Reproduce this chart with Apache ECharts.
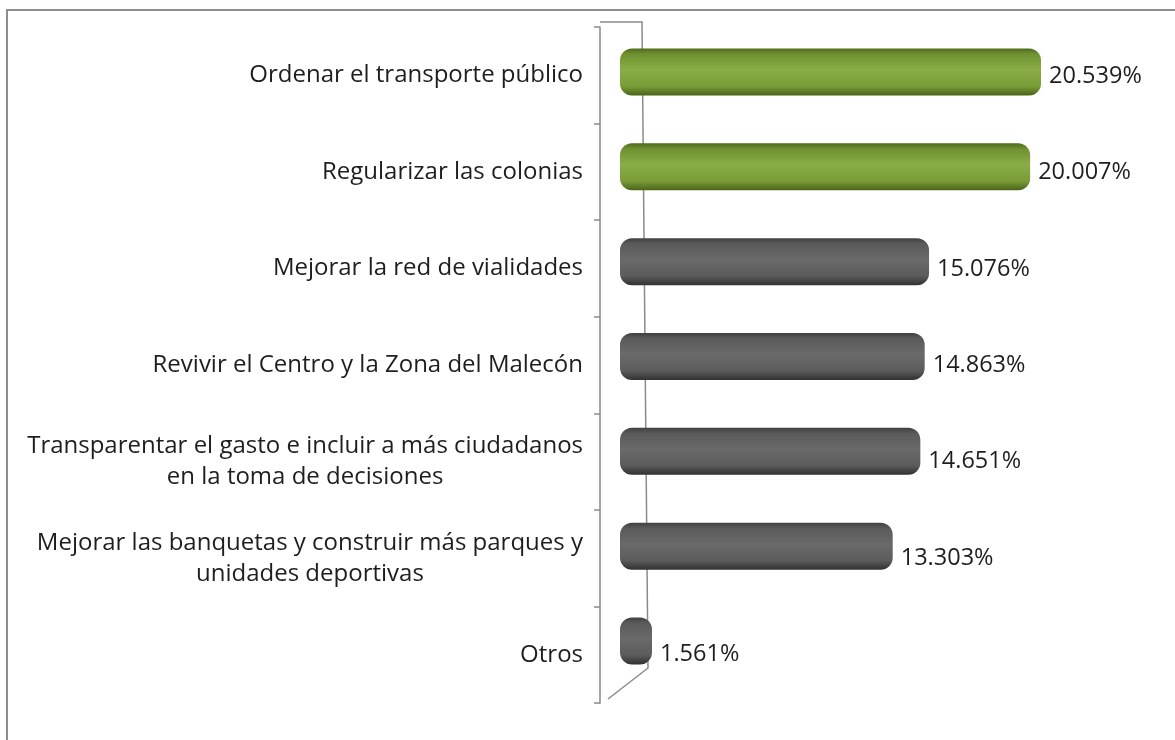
<!DOCTYPE html>
<html>
<head>
<meta charset="utf-8">
<script src="https://cdn.jsdelivr.net/npm/echarts@6/dist/echarts.min.js"></script>
<style>
html,body{margin:0;padding:0;background:#fff;}
#chart{width:1175px;height:740px;}
</style>
</head>
<body>
<div id="chart"></div>
<script>
// ---- data ----
const categories = [
  'Ordenar el transporte público',
  'Regularizar las colonias',
  'Mejorar la red de vialidades',
  'Revivir el Centro y la Zona del Malecón',
  'Transparentar el gasto e incluir a más ciudadanos\nen la toma de decisiones',
  'Mejorar las banquetas y construir más parques y\nunidades deportivas',
  'Otros'
];
const values = [20.539, 20.007, 15.076, 14.863, 14.651, 13.303, 1.561];
const highlighted = [true, true, false, false, false, false, false];

// ---- styles ----
const FONT = 'Open Sans';
const greenGrad = new echarts.graphic.LinearGradient(0, 0, 0, 1, [
  {offset: 0, color: '#4f6b1c'},
  {offset: 0.12, color: '#6f9130'},
  {offset: 0.45, color: '#8aad47'},
  {offset: 0.8, color: '#7a9c38'},
  {offset: 1, color: '#4a6418'}
]);
const grayGrad = new echarts.graphic.LinearGradient(0, 0, 0, 1, [
  {offset: 0, color: '#404040'},
  {offset: 0.12, color: '#5a5a5a'},
  {offset: 0.45, color: '#6a6a6a'},
  {offset: 0.8, color: '#5c5c5c'},
  {offset: 1, color: '#313131'}
]);

const barData = values.map((v, i) => ({
  value: v,
  itemStyle: {color: highlighted[i] ? greenGrad : grayGrad},
  label: {offset: [0, 4 + 1.6 * i]}
}));

const chart = echarts.init(document.getElementById('chart'), null, {renderer: 'canvas'});
chart.setOption({
  backgroundColor: '#ffffff',
  animation: false,
  grid: [
    {left: 620, right: 22, top: 24.6, bottom: 51.6},
    {left: 600, width: 1, top: 27, bottom: 36.8}
  ],
  xAxis: [
    {gridIndex: 0, type: 'value', min: 0, max: 26, show: false},
    {gridIndex: 1, type: 'value', min: 0, max: 1, show: false}
  ],
  yAxis: [
    {gridIndex: 0, type: 'category', data: categories, inverse: true, show: false},
    {
      gridIndex: 1, type: 'category', data: categories, inverse: true,
      axisLine: {show: true, lineStyle: {color: '#8a8a8a', width: 1.5}},
      axisTick: {show: true, length: 6, lineStyle: {color: '#8a8a8a', width: 1.5}},
      axisLabel: {
        margin: 17,
        align: 'right',
        fontFamily: FONT,
        fontSize: 24,
        color: '#1e1e1e',
        lineHeight: 31,
        formatter: function (val) {
          return val.split('\n').map(s => '{c|' + s + '}').join('\n');
        },
        rich: {c: {align: 'center', fontFamily: FONT, fontSize: 24, color: '#1e1e1e', lineHeight: 31}}
      }
    }
  ],
  series: [{
    type: 'bar',
    xAxisIndex: 0,
    yAxisIndex: 0,
    data: barData,
    barWidth: 47,
    itemStyle: {borderRadius: 12},
    label: {
      show: true,
      position: 'right',
      distance: 8,
      fontFamily: FONT,
      fontSize: 23.5,
      color: '#1e1e1e',
      formatter: p => p.value.toFixed(3) + '%'
    },
    z: 3
  }],
  graphic: [
    {type: 'rect', shape: {x: 7, y: 10, width: 1300, height: 900},
     style: {fill: 'none', stroke: '#8c8c8c', lineWidth: 2}, z: 0},
    {type: 'polyline', shape: {points: [[600, 22], [642, 22], [648, 668], [608, 699]]},
     style: {fill: 'none', stroke: '#8a8a8a', lineWidth: 1.5}, z: 1}
  ]
});
</script>
</body>
</html>
